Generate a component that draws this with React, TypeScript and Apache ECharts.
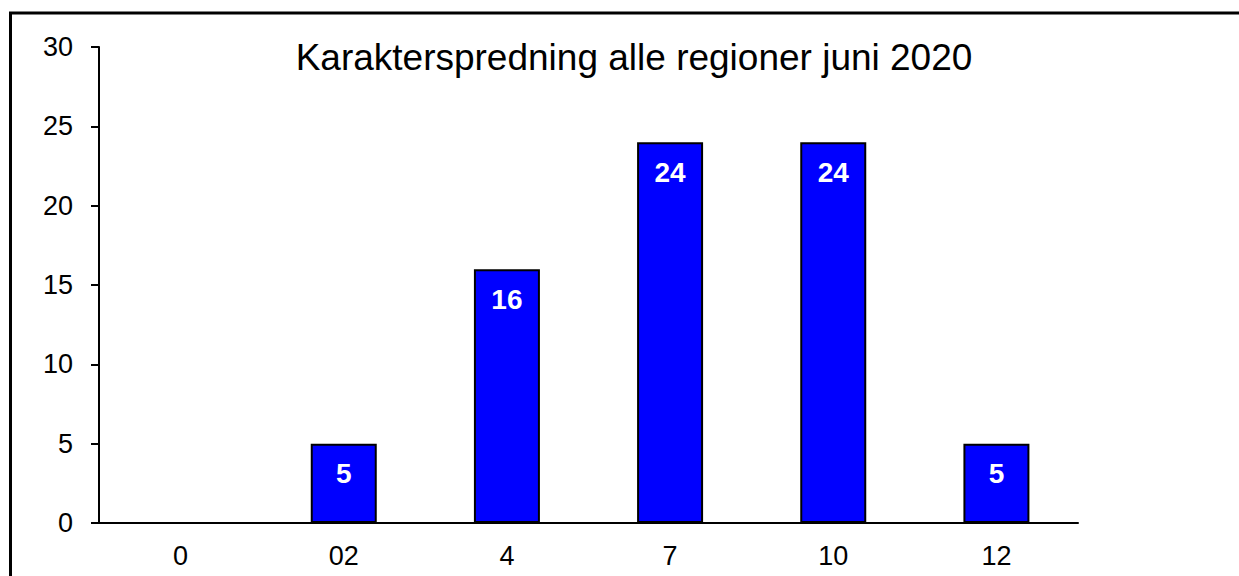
import React, { useEffect, useRef } from "react";
import * as echarts from "echarts";

const categories = ["0", "02", "4", "7", "10", "12"];
const values = [0, 5, 16, 24, 24, 5];
const titleText = "Karakterspredning alle regioner juni 2020";

const FONT = "Liberation Sans, Arial, sans-serif";

export default function App() {
  const ref = useRef<HTMLDivElement>(null);
  useEffect(() => {
    document.body.style.margin = "0";
    const chart = echarts.init(ref.current!, null, { renderer: "svg" });
    chart.setOption({
      animation: false,
      backgroundColor: "#ffffff",
      textStyle: { fontFamily: FONT },
      title: {
        text: titleText,
        left: 629,
        textAlign: "center",
        top: 34,
        textStyle: { fontSize: 37, fontWeight: "normal", color: "#000", fontFamily: FONT },
      },
      graphic: [
        {
          type: "rect",
          shape: { x: 10.5, y: 13, width: 1400, height: 800 },
          style: { fill: "none", stroke: "#000", lineWidth: 3 },
          silent: true,
        },
      ],
      grid: { left: 99, top: 47, right: 161, bottom: 53 },
      xAxis: {
        type: "category",
        data: categories,
        axisLine: { lineStyle: { color: "#000", width: 2 } },
        axisTick: { length: 8, lineStyle: { color: "#000", width: 2 } },
        axisLabel: { fontSize: 27, color: "#000", margin: 19, fontFamily: FONT },
      },
      yAxis: {
        type: "value",
        min: 0,
        max: 30,
        interval: 5,
        splitLine: { show: false },
        axisLine: { show: true, lineStyle: { color: "#000", width: 2 } },
        axisTick: { show: true, length: 8, lineStyle: { color: "#000", width: 2 } },
        axisLabel: { fontSize: 27, color: "#000", margin: 26, fontFamily: FONT },
      },
      series: [
        {
          type: "bar",
          data: values,
          barWidth: 66,
          itemStyle: { color: "#0000ff", borderColor: "#000", borderWidth: 2 },
          label: {
            show: true,
            position: "insideTop",
            distance: 16,
            color: "#fff",
            fontSize: 28,
            fontWeight: "bold",
            fontFamily: FONT,
            formatter: (p: any) => (p.value === 0 ? "" : String(p.value)),
          },
        },
      ],
    });
    return () => chart.dispose();
  }, []);
  return <div ref={ref} style={{ width: 1239, height: 576 }} />;
}
